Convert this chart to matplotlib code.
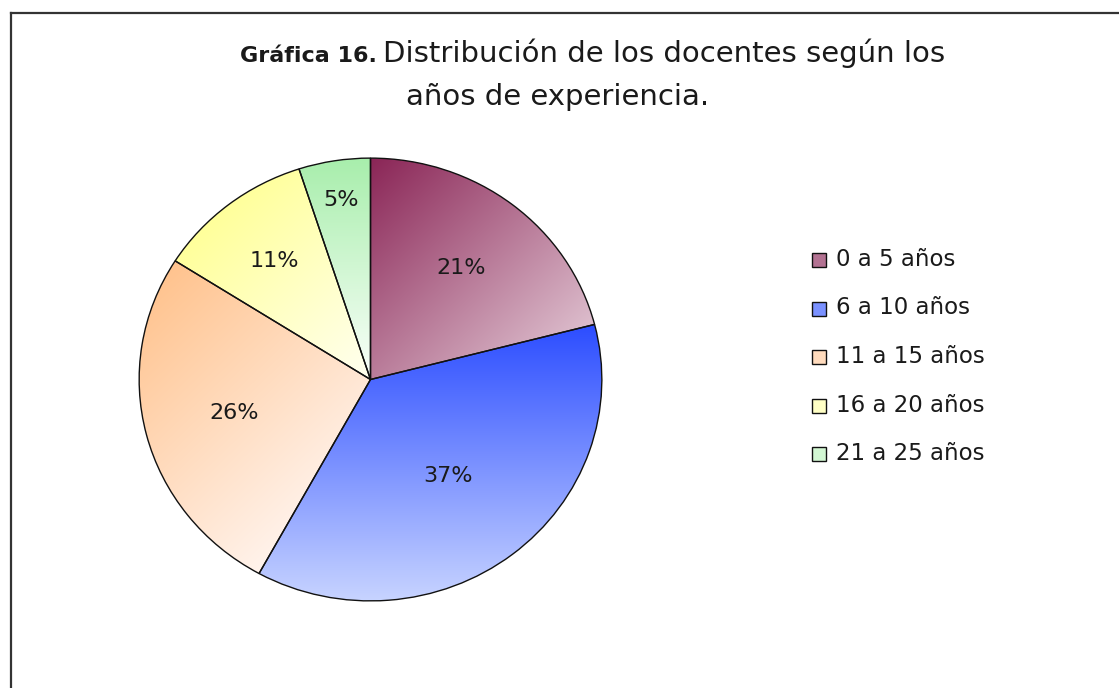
import matplotlib
matplotlib.use("Agg")
import matplotlib.pyplot as plt
import numpy as np
from matplotlib.colors import to_rgb
from matplotlib.patches import Rectangle
from matplotlib.lines import Line2D

# Data
categories = ['0 a 5 años', '6 a 10 años', '11 a 15 años', '16 a 20 años', '21 a 25 años']
values = [21, 37, 26, 11, 5]
pct_labels = ['21%', '37%', '26%', '11%', '5%']

# Gradient fills (start colour, end colour, direction) for every slice
grad_start = ['#8a2556', '#2c4dff', '#ffc38e', '#ffff9a', '#a8eeac']
grad_end = ['#ddbecd', '#c9d5ff', '#fff3ec', '#fffff0', '#fbfffb']
grad_dir = [(1, -1), (0, -1), (1, -1), (1, -1), (0, -1)]
label_dist = [0.64, 0.55, 0.61, 0.68, 0.82]

W, H = 1119, 688
font = 'DejaVu Sans'
txt_col = '#1a1a1a'

fig = plt.figure(figsize=(W / 100, H / 100), dpi=100)
fig.patch.set_facecolor('white')

# frame lines (only left and top are visible in the picture)
fig.add_artist(Line2D([10.5 / W, 10.5 / W], [0, 1 - 13 / H], color='#333333', lw=1.6))
fig.add_artist(Line2D([10.5 / W, 1], [1 - 13 / H, 1 - 13 / H], color='#333333', lw=1.6))

# pie axes (slightly elliptical like the original)
ax = fig.add_axes([138 / W, 1 - 602 / H, 465 / W, 445 / H])
wedges, _ = ax.pie(values, startangle=90, counterclock=False, radius=1,
                   colors=['none'] * len(values),
                   wedgeprops=dict(edgecolor='#111111', linewidth=1.0))

xs = np.linspace(-1, 1, 500)
X, Y = np.meshgrid(xs, xs)
for w, c0, c1, d in zip(wedges, grad_start, grad_end, grad_dir):
    dv = np.array(d, dtype=float)
    dv /= np.hypot(*dv)
    proj = w.get_path().vertices @ dv
    tmin, tmax = proj.min(), proj.max()
    T = np.clip((X * dv[0] + Y * dv[1] - tmin) / (tmax - tmin), 0, 1)
    a, b = np.array(to_rgb(c0)), np.array(to_rgb(c1))
    img = a + (b - a) * T[..., None]
    im = ax.imshow(img, extent=(-1, 1, -1, 1), origin='lower', zorder=0,
                   interpolation='bilinear')
    im.set_clip_path(w)

for w, lab, dist in zip(wedges, pct_labels, label_dist):
    ang = np.deg2rad((w.theta1 + w.theta2) / 2)
    ax.text(dist * np.cos(ang), dist * np.sin(ang), lab, ha='center', va='center',
            fontsize=16, family=font, color=txt_col, zorder=3)

ax.set_aspect('auto')
ax.set_xlim(-1.005, 1.005)
ax.set_ylim(-1.005, 1.005)
ax.axis('off')

# legend drawn by hand
for i, (cat, c0, c1) in enumerate(zip(categories, grad_start, grad_end)):
    yb = 266 + i * 48.5
    mid = (np.array(to_rgb(c0)) + np.array(to_rgb(c1))) / 2
    fig.add_artist(Rectangle((812 / W, 1 - (yb + 1) / H), 14 / W, 14 / H, transform=fig.transFigure,
                             facecolor=mid, edgecolor='#111111', lw=1.0))
    fig.text(836 / W, 1 - yb / H, cat, ha='left', va='baseline', fontsize=16.5,
             family=font, color=txt_col)

# title: bold prefix + regular rest
r = fig.canvas.get_renderer()
x0 = 240
tb = fig.text(x0 / W, 1 - 62 / H, 'Gráfica 16.', fontsize=16, fontweight='bold',
              family=font, color=txt_col, va='baseline')
wb = tb.get_window_extent(r).width
fig.text((x0 + wb + 6) / W, 1 - 62 / H, 'Distribución de los docentes según los',
         fontsize=21, family=font, color=txt_col, va='baseline')
fig.text(558 / W, 1 - 105 / H, 'años de experiencia.', ha='center', va='baseline',
         fontsize=21, family=font, color=txt_col)

fig.savefig('out.png', dpi=100)
